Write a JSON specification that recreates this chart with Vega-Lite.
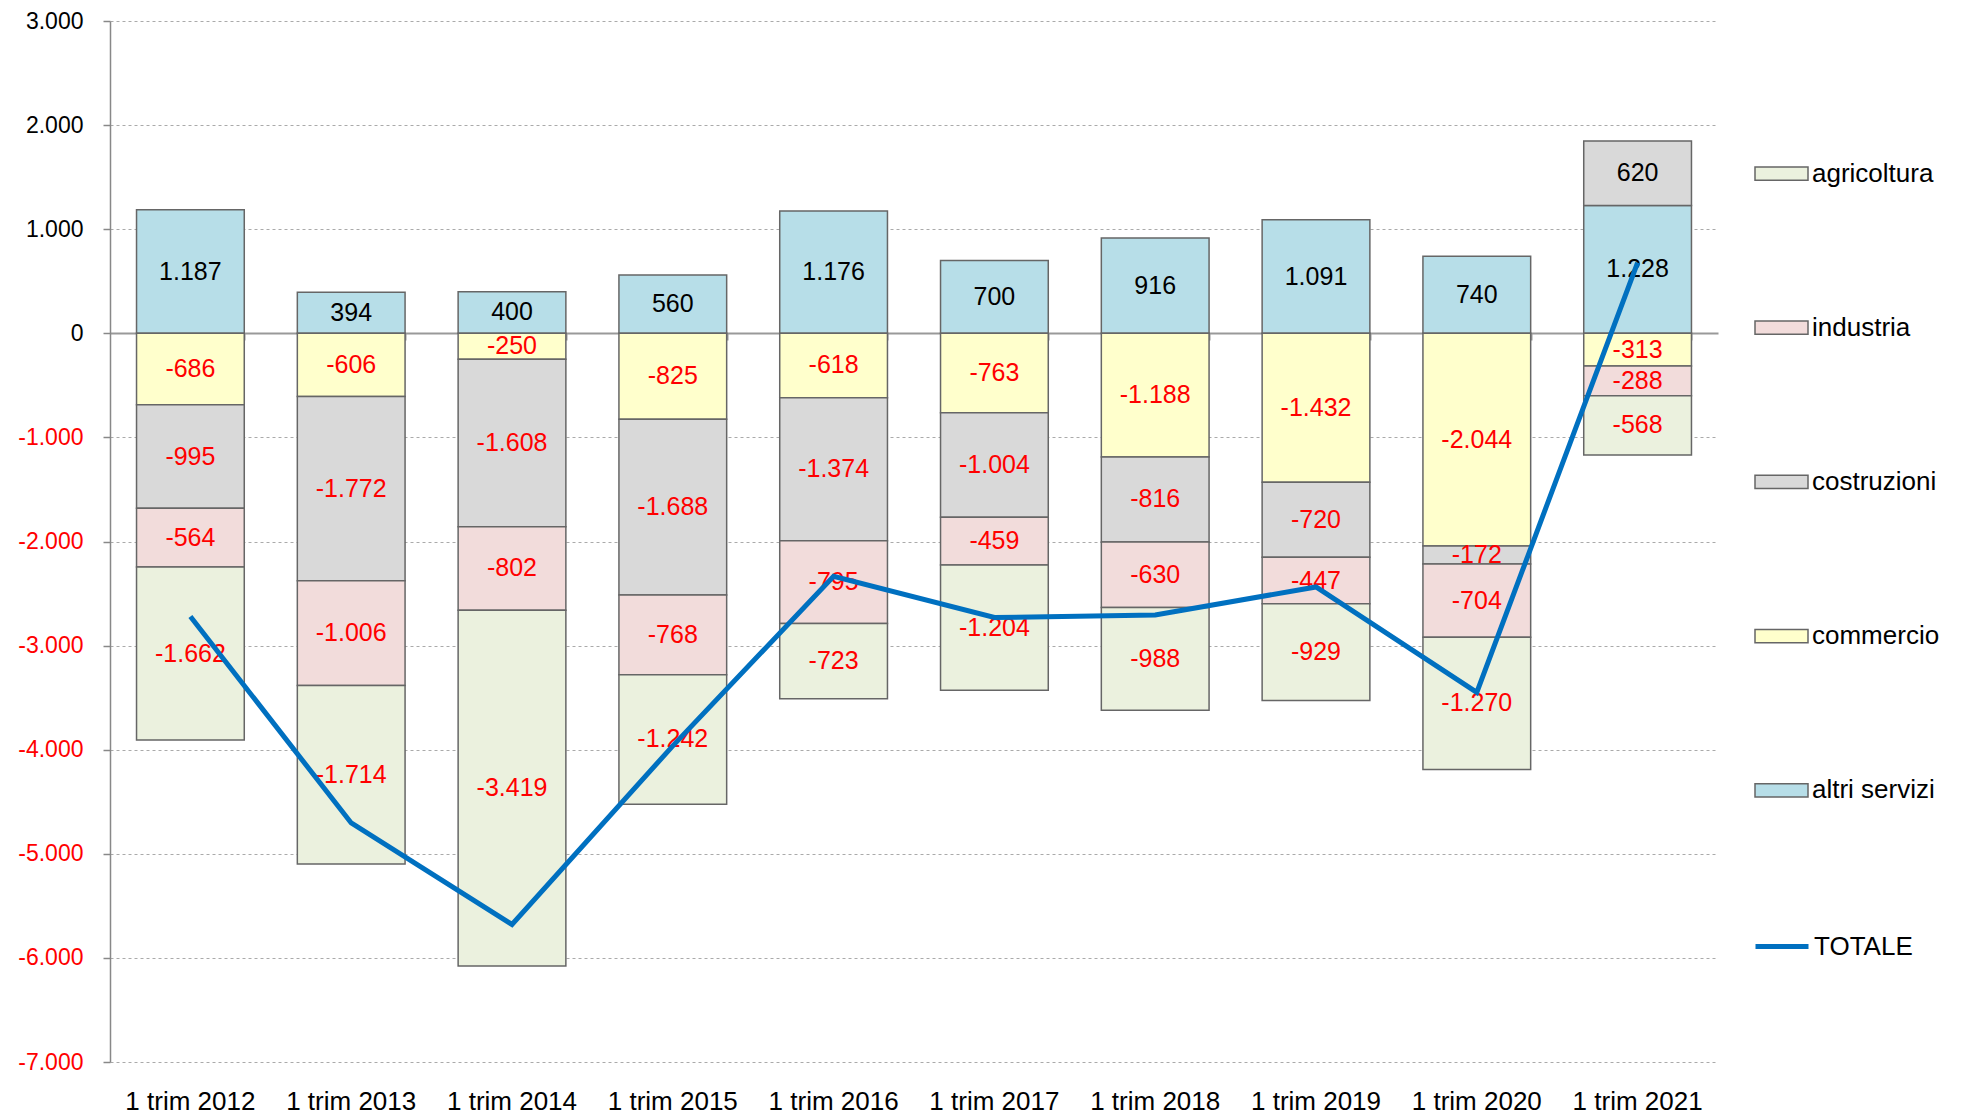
{
  "$schema": "https://vega.github.io/schema/vega-lite/v6.json",
  "width": 1608,
  "height": 1041,
  "autosize": {"type": "none"},
  "padding": {"left": 110, "top": 21, "right": 243, "bottom": 56},
  "background": "white",
  "config": {
    "locale": {"number": {"decimal": ",", "thousands": ".", "grouping": [3], "currency": ["€", ""], "minus": "-"}},
    "font": "Liberation Sans",
    "view": {"stroke": null}
  },
  "datasets": {
    "settori": [
      {"periodo": "1 trim 2012", "settore": "altri servizi", "ordine": 0, "valore": 1187},
      {"periodo": "1 trim 2012", "settore": "commercio", "ordine": 1, "valore": -686},
      {"periodo": "1 trim 2012", "settore": "costruzioni", "ordine": 2, "valore": -995},
      {"periodo": "1 trim 2012", "settore": "industria", "ordine": 3, "valore": -564},
      {"periodo": "1 trim 2012", "settore": "agricoltura", "ordine": 4, "valore": -1662},
      {"periodo": "1 trim 2013", "settore": "altri servizi", "ordine": 0, "valore": 394},
      {"periodo": "1 trim 2013", "settore": "commercio", "ordine": 1, "valore": -606},
      {"periodo": "1 trim 2013", "settore": "costruzioni", "ordine": 2, "valore": -1772},
      {"periodo": "1 trim 2013", "settore": "industria", "ordine": 3, "valore": -1006},
      {"periodo": "1 trim 2013", "settore": "agricoltura", "ordine": 4, "valore": -1714},
      {"periodo": "1 trim 2014", "settore": "altri servizi", "ordine": 0, "valore": 400},
      {"periodo": "1 trim 2014", "settore": "commercio", "ordine": 1, "valore": -250},
      {"periodo": "1 trim 2014", "settore": "costruzioni", "ordine": 2, "valore": -1608},
      {"periodo": "1 trim 2014", "settore": "industria", "ordine": 3, "valore": -802},
      {"periodo": "1 trim 2014", "settore": "agricoltura", "ordine": 4, "valore": -3419},
      {"periodo": "1 trim 2015", "settore": "altri servizi", "ordine": 0, "valore": 560},
      {"periodo": "1 trim 2015", "settore": "commercio", "ordine": 1, "valore": -825},
      {"periodo": "1 trim 2015", "settore": "costruzioni", "ordine": 2, "valore": -1688},
      {"periodo": "1 trim 2015", "settore": "industria", "ordine": 3, "valore": -768},
      {"periodo": "1 trim 2015", "settore": "agricoltura", "ordine": 4, "valore": -1242},
      {"periodo": "1 trim 2016", "settore": "altri servizi", "ordine": 0, "valore": 1176},
      {"periodo": "1 trim 2016", "settore": "commercio", "ordine": 1, "valore": -618},
      {"periodo": "1 trim 2016", "settore": "costruzioni", "ordine": 2, "valore": -1374},
      {"periodo": "1 trim 2016", "settore": "industria", "ordine": 3, "valore": -795},
      {"periodo": "1 trim 2016", "settore": "agricoltura", "ordine": 4, "valore": -723},
      {"periodo": "1 trim 2017", "settore": "altri servizi", "ordine": 0, "valore": 700},
      {"periodo": "1 trim 2017", "settore": "commercio", "ordine": 1, "valore": -763},
      {"periodo": "1 trim 2017", "settore": "costruzioni", "ordine": 2, "valore": -1004},
      {"periodo": "1 trim 2017", "settore": "industria", "ordine": 3, "valore": -459},
      {"periodo": "1 trim 2017", "settore": "agricoltura", "ordine": 4, "valore": -1204},
      {"periodo": "1 trim 2018", "settore": "altri servizi", "ordine": 0, "valore": 916},
      {"periodo": "1 trim 2018", "settore": "commercio", "ordine": 1, "valore": -1188},
      {"periodo": "1 trim 2018", "settore": "costruzioni", "ordine": 2, "valore": -816},
      {"periodo": "1 trim 2018", "settore": "industria", "ordine": 3, "valore": -630},
      {"periodo": "1 trim 2018", "settore": "agricoltura", "ordine": 4, "valore": -988},
      {"periodo": "1 trim 2019", "settore": "altri servizi", "ordine": 0, "valore": 1091},
      {"periodo": "1 trim 2019", "settore": "commercio", "ordine": 1, "valore": -1432},
      {"periodo": "1 trim 2019", "settore": "costruzioni", "ordine": 2, "valore": -720},
      {"periodo": "1 trim 2019", "settore": "industria", "ordine": 3, "valore": -447},
      {"periodo": "1 trim 2019", "settore": "agricoltura", "ordine": 4, "valore": -929},
      {"periodo": "1 trim 2020", "settore": "altri servizi", "ordine": 0, "valore": 740},
      {"periodo": "1 trim 2020", "settore": "commercio", "ordine": 1, "valore": -2044},
      {"periodo": "1 trim 2020", "settore": "costruzioni", "ordine": 2, "valore": -172},
      {"periodo": "1 trim 2020", "settore": "industria", "ordine": 3, "valore": -704},
      {"periodo": "1 trim 2020", "settore": "agricoltura", "ordine": 4, "valore": -1270},
      {"periodo": "1 trim 2021", "settore": "altri servizi", "ordine": 0, "valore": 1228},
      {"periodo": "1 trim 2021", "settore": "commercio", "ordine": 1, "valore": -313},
      {"periodo": "1 trim 2021", "settore": "costruzioni", "ordine": 2, "valore": 620},
      {"periodo": "1 trim 2021", "settore": "industria", "ordine": 3, "valore": -288},
      {"periodo": "1 trim 2021", "settore": "agricoltura", "ordine": 4, "valore": -568}
    ],
    "totale": [
      {"periodo": "1 trim 2012", "totale": -2720},
      {"periodo": "1 trim 2013", "totale": -4704},
      {"periodo": "1 trim 2014", "totale": -5679},
      {"periodo": "1 trim 2015", "totale": -3963},
      {"periodo": "1 trim 2016", "totale": -2334},
      {"periodo": "1 trim 2017", "totale": -2730},
      {"periodo": "1 trim 2018", "totale": -2706},
      {"periodo": "1 trim 2019", "totale": -2437},
      {"periodo": "1 trim 2020", "totale": -3450},
      {"periodo": "1 trim 2021", "totale": 679}
    ]
  },
  "layer": [
    {
      "data": {"name": "settori"},
      "transform": [
        {"stack": "valore", "groupby": ["periodo"], "sort": [{"field": "ordine", "order": "ascending"}], "as": ["v0", "v1"], "offset": "zero"}
      ],
      "mark": {"type": "bar", "stroke": "#666666", "strokeWidth": 1.5},
      "encoding": {
        "x": {
          "field": "periodo", "type": "nominal", "sort": null,
          "scale": {"paddingInner": 0.33, "paddingOuter": 0.165},
          "axis": {"orient": "bottom", "title": null, "domain": false, "ticks": false, "labelAngle": 0, "labelFontSize": 26, "labelFont": "Liberation Sans", "labelColor": "#000000", "labelPadding": 26}
        },
        "y": {
          "field": "v0", "type": "quantitative",
          "scale": {"domain": [-7000, 3000], "nice": false},
          "axis": {
            "title": null,
            "values": [-7000, -6000, -5000, -4000, -3000, -2000, -1000, 0, 1000, 2000, 3000],
            "format": ",.0f",
            "grid": true, "gridDash": [3, 3], "gridColor": "#AAAAAA", "gridWidth": 1,
            "domainColor": "#888888", "domainWidth": 1.5,
            "tickColor": "#888888", "tickSize": 7, "tickWidth": 1.5,
            "labelFontSize": 23, "labelFont": "Liberation Sans", "labelPadding": 20,
            "labelColor": {"condition": {"test": "datum.value < 0", "value": "#FF0000"}, "value": "#000000"}
          }
        },
        "y2": {"field": "v1"},
        "fill": {
          "field": "settore", "type": "nominal",
          "scale": {"domain": ["agricoltura", "industria", "costruzioni", "commercio", "altri servizi"], "range": ["#EBF1DE", "#F2DCDB", "#D9D9D9", "#FFFFCC", "#B7DEE8"]},
          "legend": {"orient": "none", "legendX": 1644, "legendY": 125, "title": null, "padding": 0, "symbolType": "M-1,-0.25H1V0.25H-1Z", "symbolSize": 2809, "symbolStrokeColor": "#666666", "symbolStrokeWidth": 1.5, "symbolOpacity": 1, "labelFontSize": 26, "labelFont": "Liberation Sans", "labelColor": "#000000", "labelOffset": 3, "rowPadding": 113.2}
        }
      }
    },
    {
      "data": {"name": "settori"},
      "transform": [
        {"stack": "valore", "groupby": ["periodo"], "sort": [{"field": "ordine", "order": "ascending"}], "as": ["v0", "v1"], "offset": "zero"},
        {"calculate": "(datum.v0 + datum.v1) / 2", "as": "mid"}
      ],
      "mark": {"type": "text", "fontSize": 25, "font": "Liberation Sans"},
      "encoding": {
        "x": {"field": "periodo", "type": "nominal", "sort": null, "axis": null},
        "y": {"field": "mid", "type": "quantitative"},
        "text": {"field": "valore", "type": "quantitative", "format": ",.0f"},
        "color": {"condition": {"test": "datum.valore < 0", "value": "#FF0000"}, "value": "#000000"}
      }
    },
    {
      "data": {"name": "totale"},
      "mark": {"type": "line", "strokeWidth": 5},
      "encoding": {
        "x": {
          "field": "periodo", "type": "nominal", "sort": null,
          "axis": {"orient": "top", "offset": -312, "labels": false, "title": null, "grid": false, "domainColor": "#999999", "domainWidth": 2, "tickColor": "#999999", "tickWidth": 2, "tickSize": -7, "tickBand": "extent"}
        },
        "y": {"field": "totale", "type": "quantitative"},
        "stroke": {
          "datum": "TOTALE", "type": "nominal",
          "scale": {"domain": ["TOTALE"], "range": ["#0070C0"]},
          "legend": {"orient": "none", "legendX": 1643, "legendY": 896.5, "title": null, "padding": 0, "symbolType": "stroke", "symbolSize": 2809, "symbolStrokeWidth": 5, "labelFontSize": 26, "labelFont": "Liberation Sans", "labelColor": "#000000", "labelOffset": 3}
        }
      }
    }
  ]
}
